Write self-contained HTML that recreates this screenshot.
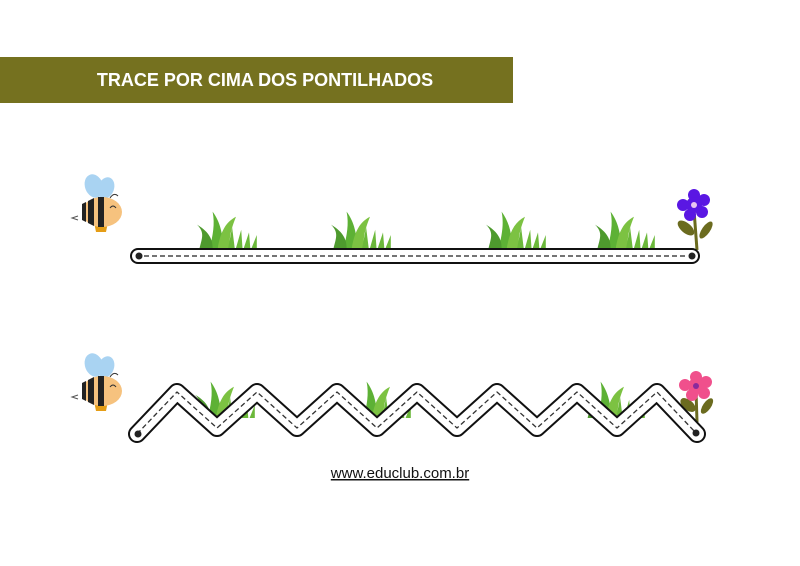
<!DOCTYPE html>
<html><head><meta charset="utf-8"><style>
body{margin:0;background:#fff;width:800px;height:566px;overflow:hidden}
svg{display:block}
</style></head><body>
<svg width="800" height="566" viewBox="0 0 800 566" xmlns="http://www.w3.org/2000/svg">
<defs>
<g id="grass">
<path d="M0 0 C2 -10 4 -18 2 -28 C8 -20 10 -10 10 0Z" fill="#5db135"/>
<path d="M6 0 C8 -12 12 -20 20 -24 C16 -14 14 -6 16 0Z" fill="#7cc242"/>
<path d="M-8 0 C-6 -8 -4 -12 -10 -18 C0 -12 2 -6 2 0Z" fill="#4e9a2e"/>
<path d="M14 0 L17 -16 L19 0Z M20 0 L24 -14 L25 0Z M26 0 L30 -12 L31 0Z M32 0 L36 -10 L36 0Z" fill="#6bb83a"/>
</g>
<g id="bee">
<ellipse cx="-4" cy="-26" rx="9" ry="12" fill="#a9d3f2" transform="rotate(-20 -4 -26)"/>
<ellipse cx="8" cy="-24" rx="8" ry="11" fill="#a9d3f2" transform="rotate(20 8 -24)"/>
<path d="M-4 10 L10 10 L8 20 L-2 20Z" fill="#e59d16"/>
<ellipse cx="4" cy="0" rx="20" ry="15" fill="#f6c27e"/>
<path d="M-10 -11 L-4 -14 L-4 14 L-10 11Z M0 -15 L6 -15 L6 15 L0 15Z" fill="#222"/>
<path d="M-16 -8 L-12 -10 L-12 10 L-16 8Z" fill="#222"/>
<path d="M12 -4 Q15 -8 18 -4" stroke="#333" fill="none" stroke-width="1"/>
<path d="M12 -14 Q16 -20 20 -16" stroke="#333" fill="none" stroke-width="1"/>
<path d="M-20 4 L-26 6 L-20 8" stroke="#555" fill="none" stroke-width="1"/>
</g>
</defs>
<rect x="0" y="57" width="513" height="46" fill="#75711f"/>
<text x="265" y="86" text-anchor="middle" font-family="Liberation Sans, sans-serif" font-weight="bold" font-size="18" fill="#fff">TRACE POR CIMA DOS PONTILHADOS</text>

<use href="#bee" x="98" y="212"/>
<use href="#bee" x="98" y="391"/>

<g transform="translate(210 248) scale(1.3)"><use href="#grass"/></g>
<g transform="translate(344 248) scale(1.3)"><use href="#grass"/></g>
<g transform="translate(499 248) scale(1.3)"><use href="#grass"/></g>
<g transform="translate(608 248) scale(1.3)"><use href="#grass"/></g>
<g transform="translate(208 418) scale(1.3)"><use href="#grass"/></g>
<g transform="translate(364 418) scale(1.3)"><use href="#grass"/></g>
<g transform="translate(598 418) scale(1.3)"><use href="#grass"/></g>

<g>
<path d="M694 210 L697 250" stroke="#6b6b1f" stroke-width="3"/>
<ellipse cx="686" cy="228" rx="5" ry="10" fill="#6b6b1f" transform="rotate(-50 686 228)"/>
<ellipse cx="706" cy="230" rx="4" ry="10" fill="#6b6b1f" transform="rotate(35 706 230)"/>
<g fill="#5a17e3">
<circle cx="694" cy="195" r="6"/><circle cx="704" cy="200" r="6"/><circle cx="702" cy="212" r="6"/><circle cx="690" cy="215" r="6"/><circle cx="683" cy="205" r="6"/>
<circle cx="694" cy="205" r="8"/></g>
<circle cx="694" cy="205" r="3" fill="#e8c6f0"/>
</g>
<g>
<path d="M696 390 L697 422" stroke="#6b6b1f" stroke-width="3"/>
<ellipse cx="688" cy="405" rx="5" ry="9" fill="#6b6b1f" transform="rotate(-50 688 405)"/>
<ellipse cx="707" cy="406" rx="4" ry="9" fill="#6b6b1f" transform="rotate(35 707 406)"/>
<g fill="#f0508c">
<circle cx="696" cy="377" r="6"/><circle cx="706" cy="382" r="6"/><circle cx="704" cy="393" r="6"/><circle cx="692" cy="395" r="6"/><circle cx="685" cy="385" r="6"/>
<circle cx="696" cy="386" r="8"/></g>
<circle cx="696" cy="386" r="3" fill="#8a2a9c"/>
</g>

<line x1="138" y1="256" x2="692" y2="256" stroke="#111" stroke-width="16" stroke-linecap="round"/>
<line x1="138" y1="256" x2="692" y2="256" stroke="#fff" stroke-width="12" stroke-linecap="round"/>
<line x1="144" y1="256" x2="686" y2="256" stroke="#222" stroke-width="1.3" stroke-dasharray="5 3"/>
<circle cx="139" cy="256" r="3.5" fill="#222"/>
<circle cx="692" cy="256" r="3.5" fill="#222"/>

<g fill="none" stroke-linejoin="round" stroke-linecap="round">
<polyline points="137,434 177,392 217,428 257,392 297,428 337,392 377,428 417,392 457,428 497,392 537,428 577,392 617,428 657,392 697,434" stroke="#111" stroke-width="18"/>
<polyline points="137,434 177,392 217,428 257,392 297,428 337,392 377,428 417,392 457,428 497,392 537,428 577,392 617,428 657,392 697,434" stroke="#fff" stroke-width="14"/>
<polyline points="137,434 177,392 217,428 257,392 297,428 337,392 377,428 417,392 457,428 497,392 537,428 577,392 617,428 657,392 697,434" stroke="#333" stroke-width="1.3" stroke-dasharray="5 3" stroke-linecap="butt"/>
</g>
<circle cx="138" cy="434" r="3.5" fill="#222"/>
<circle cx="696" cy="433" r="3.5" fill="#222"/>

<text x="400" y="478" text-anchor="middle" font-family="Liberation Sans, sans-serif" font-size="15" fill="#111" text-decoration="underline">www.educlub.com.br</text>
</svg>
</body></html>
